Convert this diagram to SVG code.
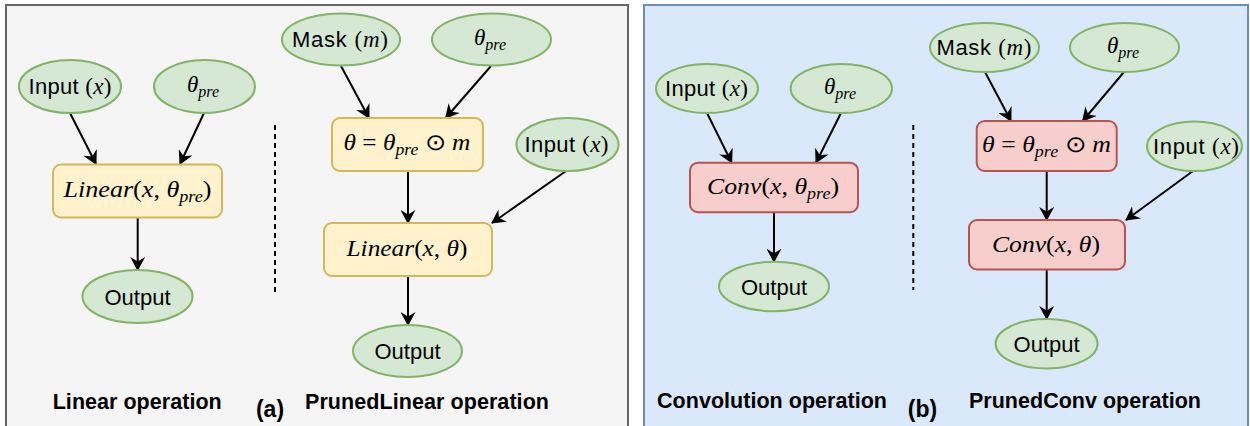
<svg xmlns="http://www.w3.org/2000/svg" width="1250" height="426" viewBox="0 0 1250 426">
<style>
.pa{fill:#f5f5f5;stroke:#666666;stroke-width:2}
.pb{fill:#dae8fc;stroke:#6c8ebf;stroke-width:2}
.el{fill:#d5e8d4;stroke:#82b366;stroke-width:2}
.yb{fill:#fff2cc;stroke:#d6b656;stroke-width:2}
.rb{fill:#f8cecc;stroke:#b85450;stroke-width:2}
.edge{stroke:#000;stroke-width:2;fill:none;marker-end:url(#arr)}
.dash{stroke:#000;stroke-width:2;stroke-dasharray:5 4;fill:none}
.t{font-family:"Liberation Sans",Arial,sans-serif;font-size:22px;fill:#000;text-anchor:middle}
.m{font-family:"Liberation Serif","Times New Roman",serif;font-size:23px;fill:#000;text-anchor:middle}
.i{font-style:italic}
.s{font-style:italic;font-size:16px}
.cap{font-family:"Liberation Sans",Arial,sans-serif;font-weight:bold;font-size:21.5px;fill:#000}
.lab{font-family:"Liberation Sans",Arial,sans-serif;font-weight:bold;font-size:23px;fill:#000;text-anchor:middle}
</style>
<defs>
<marker id="arr" markerUnits="userSpaceOnUse" markerWidth="14" markerHeight="15" viewBox="0 0 14 15" refX="13" refY="7.5" orient="auto">
<path d="M0,0 L14,7.5 L0,15 L4.5,7.5 z" fill="#000"/>
</marker>
</defs>

<g id="panel-a">
<rect class="pa" x="6" y="5" width="622" height="430"/>
</g>
<g id="panel-b">
<rect class="pb" x="644" y="5" width="604" height="430"/>
</g>

<g id="dividers">
<line class="dash" x1="275" y1="125" x2="275" y2="292"/>
<line class="dash" x1="913.3" y1="125" x2="913.3" y2="290"/>
</g>

<g id="connectors">
<line class="edge" x1="70" y1="113" x2="96" y2="164"/>
<line class="edge" x1="204" y1="113" x2="180" y2="164"/>
<line class="edge" x1="137.7" y1="217.7" x2="137.7" y2="270"/>
<line class="edge" x1="341" y1="66" x2="369" y2="118"/>
<line class="edge" x1="491" y1="66" x2="445.7" y2="118"/>
<line class="edge" x1="408" y1="171" x2="408" y2="223"/>
<line class="edge" x1="566" y1="171" x2="492" y2="223"/>
<line class="edge" x1="408" y1="276" x2="408" y2="325"/>
<line class="edge" x1="707" y1="113" x2="731.7" y2="162.7"/>
<line class="edge" x1="841" y1="113" x2="816" y2="162.7"/>
<line class="edge" x1="774" y1="212" x2="774" y2="261.7"/>
<line class="edge" x1="985" y1="72" x2="1011" y2="121"/>
<line class="edge" x1="1124" y1="72" x2="1082.7" y2="121"/>
<line class="edge" x1="1046.7" y1="171" x2="1046.7" y2="220"/>
<line class="edge" x1="1193" y1="171" x2="1126" y2="220"/>
<line class="edge" x1="1046.7" y1="269.5" x2="1046.7" y2="319"/>
</g>

<!-- Panel (a) nodes -->
<g id="a-input">
<ellipse class="el" cx="70" cy="86.5" rx="51" ry="26.5"/>
<text class="t" x="70" y="94" textLength="83">Input <tspan class="m">(</tspan><tspan class="m i">x</tspan><tspan class="m">)</tspan></text>
</g>
<g id="a-theta">
<ellipse class="el" cx="204.5" cy="86.5" rx="50.5" ry="26.5"/>
<text class="m" x="203" y="92"><tspan class="i">θ</tspan><tspan class="s" dy="5">pre</tspan></text>
</g>
<g id="a-linear">
<rect class="yb" x="53" y="164.5" width="169" height="53" rx="8"/>
<text class="m" x="137.5" y="197" textLength="148" lengthAdjust="spacingAndGlyphs"><tspan class="i">Linear</tspan>(<tspan class="i">x</tspan>, <tspan class="i">θ</tspan><tspan class="s" dy="5">pre</tspan><tspan dy="-5">)</tspan></text>
</g>
<g id="a-output">
<ellipse class="el" cx="137.5" cy="296.5" rx="55" ry="26.5"/>
<text class="t" x="137.5" y="304.5">Output</text>
</g>
<g id="a-mask">
<ellipse class="el" cx="341" cy="39.5" rx="59" ry="26"/>
<text class="t" x="340" y="47" textLength="96">Mask <tspan class="m">(</tspan><tspan class="m i">m</tspan><tspan class="m">)</tspan></text>
</g>
<g id="a-theta2">
<ellipse class="el" cx="491.5" cy="39.5" rx="59.5" ry="26"/>
<text class="m" x="490" y="45"><tspan class="i">θ</tspan><tspan class="s" dy="5">pre</tspan></text>
</g>
<g id="a-prod">
<rect class="yb" x="332" y="118" width="151" height="53" rx="8"/>
<text class="m" x="407" y="150" textLength="127" lengthAdjust="spacingAndGlyphs"><tspan class="i">θ</tspan> = <tspan class="i">θ</tspan><tspan class="s" dy="5">pre</tspan><tspan dy="-5"> ⊙ </tspan><tspan class="i">m</tspan></text>
</g>
<g id="a-input2">
<ellipse class="el" cx="567.5" cy="144.5" rx="51" ry="26.5"/>
<text class="t" x="566.5" y="152" textLength="84">Input <tspan class="m">(</tspan><tspan class="m i">x</tspan><tspan class="m">)</tspan></text>
</g>
<g id="a-linear2">
<rect class="yb" x="324" y="223" width="168" height="53" rx="8"/>
<text class="m" x="407" y="256" textLength="121" lengthAdjust="spacingAndGlyphs"><tspan class="i">Linear</tspan>(<tspan class="i">x</tspan>, <tspan class="i">θ</tspan>)</text>
</g>
<g id="a-output2">
<ellipse class="el" cx="407.5" cy="351" rx="54.5" ry="26"/>
<text class="t" x="407.5" y="359">Output</text>
</g>

<!-- Panel (b) nodes -->
<g id="b-input">
<ellipse class="el" cx="707" cy="88.5" rx="51" ry="24.5"/>
<text class="t" x="706.5" y="96" textLength="83">Input <tspan class="m">(</tspan><tspan class="m i">x</tspan><tspan class="m">)</tspan></text>
</g>
<g id="b-theta">
<ellipse class="el" cx="841.3" cy="88.5" rx="50.7" ry="24.5"/>
<text class="m" x="840" y="94"><tspan class="i">θ</tspan><tspan class="s" dy="5">pre</tspan></text>
</g>
<g id="b-conv">
<rect class="rb" x="690" y="162.7" width="168" height="49.5" rx="8"/>
<text class="m" x="773" y="194" textLength="132" lengthAdjust="spacingAndGlyphs"><tspan class="i">Conv</tspan>(<tspan class="i">x</tspan>, <tspan class="i">θ</tspan><tspan class="s" dy="5">pre</tspan><tspan dy="-5">)</tspan></text>
</g>
<g id="b-output">
<ellipse class="el" cx="774" cy="286.5" rx="55" ry="24.7"/>
<text class="t" x="774" y="294.5">Output</text>
</g>
<g id="b-mask">
<ellipse class="el" cx="984.5" cy="47.5" rx="54.5" ry="24.5"/>
<text class="t" x="984" y="55" textLength="95">Mask <tspan class="m">(</tspan><tspan class="m i">m</tspan><tspan class="m">)</tspan></text>
</g>
<g id="b-theta2">
<ellipse class="el" cx="1124.5" cy="47.5" rx="54.5" ry="24.5"/>
<text class="m" x="1123" y="53"><tspan class="i">θ</tspan><tspan class="s" dy="5">pre</tspan></text>
</g>
<g id="b-prod">
<rect class="rb" x="976.7" y="121" width="140" height="50" rx="8"/>
<text class="m" x="1046.5" y="152" textLength="129" lengthAdjust="spacingAndGlyphs"><tspan class="i">θ</tspan> = <tspan class="i">θ</tspan><tspan class="s" dy="5">pre</tspan><tspan dy="-5"> ⊙ </tspan><tspan class="i">m</tspan></text>
</g>
<g id="b-input2">
<ellipse class="el" cx="1194.5" cy="146.3" rx="47.5" ry="24.7"/>
<text class="t" x="1196" y="154" textLength="86">Input <tspan class="m">(</tspan><tspan class="m i">x</tspan><tspan class="m">)</tspan></text>
</g>
<g id="b-conv2">
<rect class="rb" x="969" y="220" width="156" height="49.5" rx="8"/>
<text class="m" x="1046" y="252" textLength="108" lengthAdjust="spacingAndGlyphs"><tspan class="i">Conv</tspan>(<tspan class="i">x</tspan>, <tspan class="i">θ</tspan>)</text>
</g>
<g id="b-output2">
<ellipse class="el" cx="1046.6" cy="343.7" rx="51" ry="24.7"/>
<text class="t" x="1046.6" y="351.5">Output</text>
</g>

<g id="captions">
<text class="cap" x="52.7" y="409" textLength="169">Linear operation</text>
<text class="lab" x="270" y="417">(a)</text>
<text class="cap" x="305" y="409" textLength="244">PrunedLinear operation</text>
<text class="cap" x="657" y="408" textLength="230">Convolution operation</text>
<text class="lab" x="922.5" y="417">(b)</text>
<text class="cap" x="969" y="408" textLength="232">PrunedConv operation</text>
</g>
</svg>
